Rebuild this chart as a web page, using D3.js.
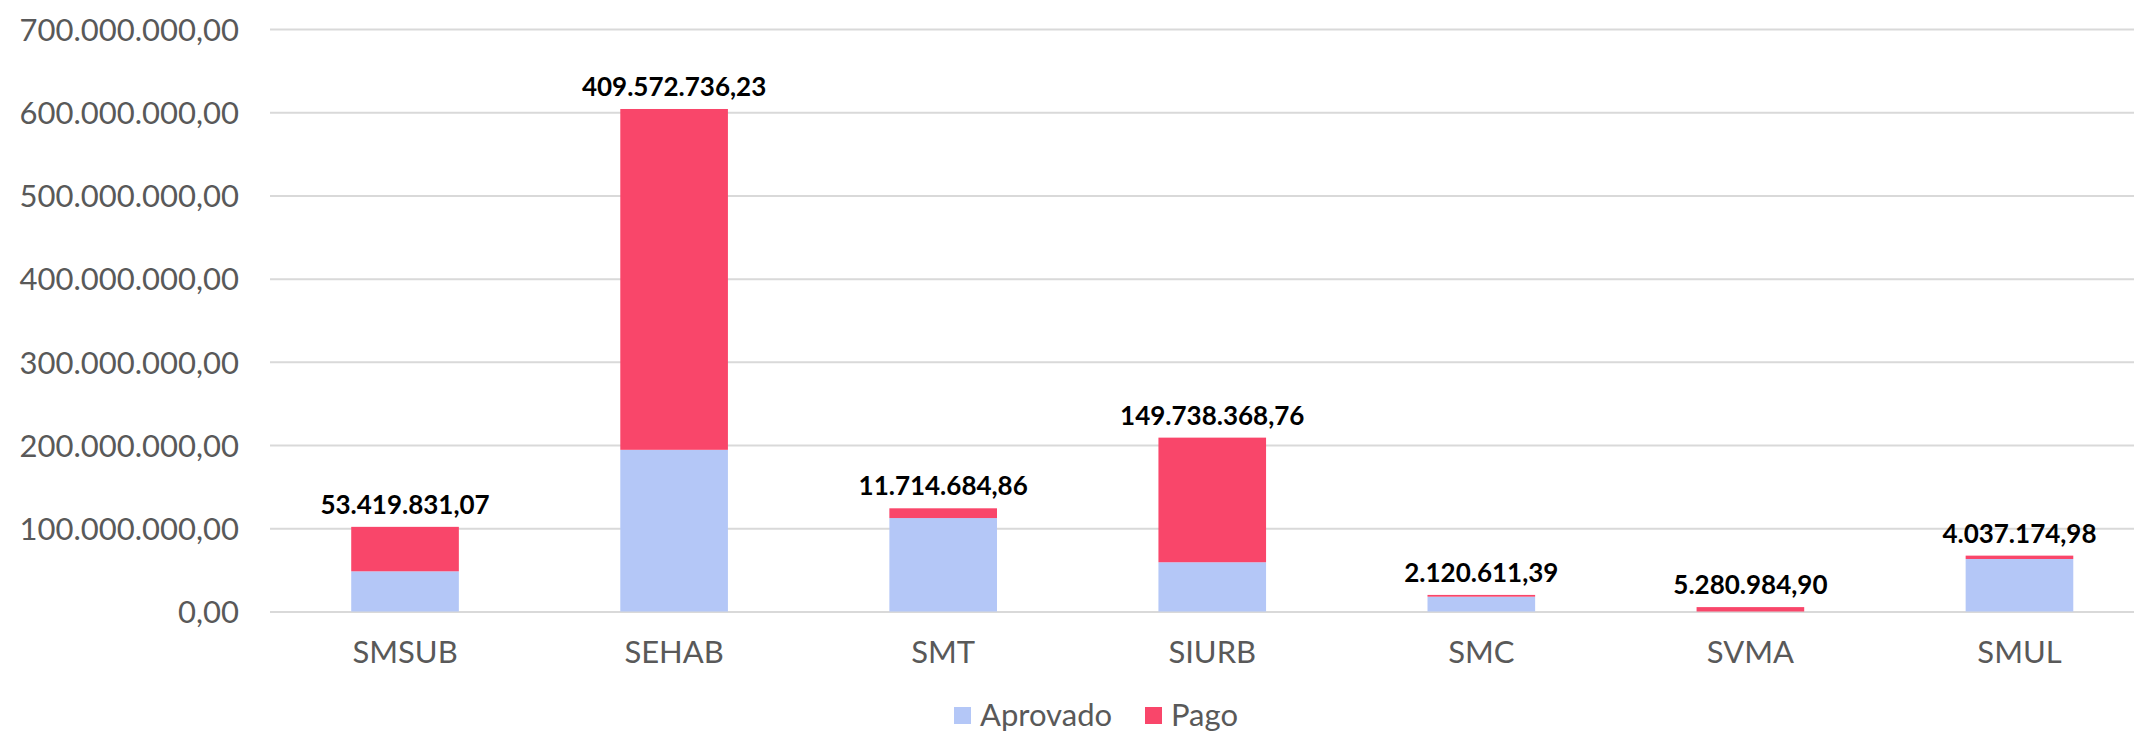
<!DOCTYPE html>
<html>
<head>
	<meta charset="utf-8">
	<title>Aprovado x Pago</title>
	<style type="text/css">
		body {
			margin: 0;
			background: #fff;
		}

		svg {
			display: block;
			font-family: Lato, sans-serif;
		}

		.axis text {
			fill: #595959;
			font-family: Lato, sans-serif;
			font-size: 31px;
		}

		.grid line {
			stroke: #d9d9d9;
			stroke-width: 2px;
		}

		.grid path {
			display: none;
		}

		.label {
			font-size: 26px;
			font-weight: bold;
			fill: #000;
		}

		.legend text {
			fill: #595959;
			font-size: 31px;
		}
	</style>
	<script src="https://d3js.org/d3.v7.min.js"></script>
</head>
<body>
<script type="text/javascript">
	var categories = ["SMSUB", "SEHAB", "SMT", "SIURB", "SMC", "SVMA", "SMUL"];
	// aprovado, pago from the data labels
	var aprovado = [48300000, 194300000, 112300000, 59200000, 17800000, 0, 63100000];
	var pago = [53419831.07, 409572736.23, 11714684.86, 149738368.76, 2120611.39, 5280984.90, 4037174.98];
	var seriesNames = ["Aprovado", "Pago"];
	var colors = ["#b4c7f7", "#f9466a"];
	var yTicks = [0, 100e6, 200e6, 300e6, 400e6, 500e6, 600e6, 700e6];

	var W = 2134, H = 733;

	var svg = d3.select("body").append("svg")
		.attr("width", W)
		.attr("height", H);

	var ptBR = d3.formatLocale({decimal: ",", thousands: ".", grouping: [3], currency: ["R$ ", ""]});
	var fmt = ptBR.format(",.2f");

	var x = d3.scaleBand()
		.domain(categories)
		.range([270.5, 2154])
		.paddingInner(0.6)
		.paddingOuter(0.3);

	var y = d3.scaleLinear()
		.domain([0, 700e6])
		.range([611.5, 29]);

	var rows = categories.map(function(c, i) {
		return {cat: c, Aprovado: aprovado[i], Pago: pago[i]};
	});

	var stacked = d3.stack().keys(seriesNames)(rows);

	// gridlines + y labels
	var gy = svg.append("g")
		.attr("class", "axis grid")
		.attr("transform", "translate(270,0)")
		.call(d3.axisLeft(y).tickValues(yTicks).tickSize(-(W - 270)).tickPadding(31).tickFormat(fmt));
	gy.selectAll("text").attr("dy", "0.36em");

	// bars
	svg.append("g").selectAll("g")
		.data(stacked)
		.join("g")
			.attr("fill", function(d, i) { return colors[i]; })
		.selectAll("rect")
		.data(function(d) { return d; })
		.join("rect")
			.attr("x", function(d) { return x(d.data.cat); })
			.attr("y", function(d) { return y(d[1]); })
			.attr("width", x.bandwidth())
			.attr("height", function(d) { return y(d[0]) - y(d[1]); });

	// value labels (pago) on top of each stack
	svg.append("g").selectAll("text")
		.data(rows)
		.join("text")
			.attr("class", "label")
			.attr("text-anchor", "middle")
			.attr("x", function(d) { return x(d.cat) + x.bandwidth() / 2; })
			.attr("y", function(d) { return y(d.Aprovado + d.Pago) - 13; })
			.text(function(d) { return fmt(d.Pago); });

	// x labels
	var gx = svg.append("g")
		.attr("class", "axis")
		.attr("transform", "translate(0,611.5)")
		.call(d3.axisBottom(x).tickSize(0).tickPadding(29));
	gx.select(".domain").remove();
	gx.selectAll("text").attr("dy", "0.71em");

	// legend
	var legend = svg.append("g")
		.attr("class", "legend")
		.attr("transform", "translate(954,707)");

	var lx = [0, 191];
	seriesNames.forEach(function(name, i) {
		var item = legend.append("g").attr("transform", "translate(" + lx[i] + ",0)");
		item.append("rect")
			.attr("width", 17)
			.attr("height", 17)
			.attr("fill", colors[i]);
		item.append("text")
			.attr("x", 26)
			.attr("y", 19)
			.text(name);
	});
</script>
</body>
</html>
